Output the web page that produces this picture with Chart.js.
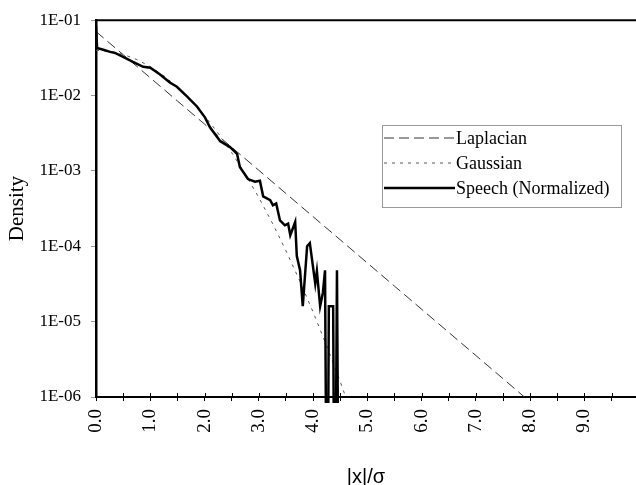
<!DOCTYPE html>
<html><head><meta charset="utf-8">
<script src="https://cdn.jsdelivr.net/npm/chart.js@4.4.1/dist/chart.umd.min.js"></script>
<style>html,body{margin:0;padding:0;background:#fff}#wrap{width:636px;height:485px}</style>
</head><body><div id="wrap"><canvas id="c" width="636" height="485"></canvas></div>
<script>
// ---- data ----
const seriesNames = ['Laplacian', 'Gaussian', 'Speech (Normalized)'];

const laplacianX = [0, 0.5, 1.0, 1.5, 2.0, 2.5, 3.0, 3.5, 4.0, 4.5, 5.0, 5.5, 6.0, 6.5, 7.0, 7.5, 8.0];
const laplacianY = [0.0707, 0.0349, 0.0172, 0.00848, 0.00418, 0.00206, 0.00102, 5.01e-4, 2.47e-4, 1.22e-4,
                    6.0e-5, 2.96e-5, 1.46e-5, 7.2e-6, 3.55e-6, 1.75e-6, 8.6e-7];

const gaussianX = [0, 0.25, 0.5, 0.75, 1.0, 1.25, 1.5, 1.75, 2.0, 2.25, 2.5, 2.75, 3.0, 3.25, 3.5, 3.75, 4.0, 4.25, 4.5, 4.75];
const gaussianY = [0.0399, 0.0387, 0.0352, 0.0301, 0.0242, 0.0183, 0.01295, 0.00863, 0.0054, 0.00317,
                   0.00175, 9.1e-4, 4.43e-4, 2.03e-4, 8.73e-5, 3.53e-5, 1.34e-5, 4.78e-6, 1.60e-6, 5.0e-7];

const speechX = [0, 0.02, 0.15, 0.26, 0.35, 0.50, 0.68, 0.87, 1.00, 1.18, 1.36, 1.49, 1.68, 1.86, 2.01, 2.10,
                 2.29, 2.47, 2.60, 2.65, 2.80, 2.93, 3.02, 3.08, 3.21, 3.26, 3.32, 3.39, 3.48, 3.54, 3.58, 3.67,
                 3.70, 3.76, 3.81, 3.89, 3.94, 4.04, 4.07, 4.13, 4.18, 4.22, 4.26, 4.29, 4.37, 4.40, 4.44, 4.48];
const speechY = [0.085, 0.0428, 0.0403, 0.038, 0.0368, 0.0326, 0.028, 0.0241, 0.0234, 0.019, 0.0149, 0.0131,
                 0.0097, 0.00716, 0.0051, 0.0038, 0.00248, 0.00207, 0.00168, 0.00113, 7.8e-4, 7.2e-4, 7.4e-4,
                 4.6e-4, 4.1e-4, 3.5e-4, 3.7e-4, 2.2e-4, 1.9e-4, 2.0e-4, 1.4e-4, 2.1e-4, 7.4e-5, 4.8e-5, 1.6e-5,
                 1.0e-4, 1.1e-4, 3.2e-5, 4.7e-5, 1.6e-5, 2.4e-5, 4.8e-5, 1e-9, 1.6e-5, 1.6e-5, 1e-9, 4.8e-5, 1e-9];

const xTickValues = [0, 0.5, 1, 1.5, 2, 2.5, 3, 3.5, 4, 4.5, 5, 5.5, 6, 6.5, 7, 7.5, 8, 8.5, 9, 9.5];
const xTickLabels = ['0.0', '', '1.0', '', '2.0', '', '3.0', '', '4.0', '', '5.0', '', '6.0', '', '7.0', '', '8.0', '', '9.0', ''];
const yTickValues = [1e-6, 1e-5, 1e-4, 1e-3, 1e-2, 1e-1];
const yTickLabels = ['1E-06', '1E-05', '1E-04', '1E-03', '1E-02', '1E-01'];

const toPts = (xs, ys) => xs.map((x, i) => ({x: x, y: ys[i]}));

const frame = {
  id: 'frame',
  afterDatasetsDraw(chart) {
    const {ctx, chartArea} = chart;
    const xs = chart.scales.x;
    ctx.save();
    ctx.strokeStyle = '#000'; ctx.lineWidth = 2;
    ctx.beginPath(); ctx.moveTo(chartArea.left, chartArea.top); ctx.lineTo(chartArea.right, chartArea.top); ctx.stroke();
    ctx.lineWidth = 1;
    ctx.beginPath();
    xs.ticks.forEach(t => {
      const px = Math.round(xs.getPixelForValue(t.value)) + 0.5;
      ctx.moveTo(px, chartArea.bottom); ctx.lineTo(px, chartArea.bottom - 4);
    });
    ctx.stroke();
    ctx.restore();
  },
  afterDraw(chart) {
    const ctx = chart.ctx;
    const bx = 382, by = 125, bw = 239, bh = 82;
    ctx.save();
    ctx.fillStyle = '#fff';
    ctx.fillRect(bx, by, bw, bh);
    ctx.strokeStyle = '#999'; ctx.lineWidth = 1;
    ctx.strokeRect(bx + 0.5, by + 0.5, bw, bh);
    chart.data.datasets.forEach((ds, i) => {
      const y = by + 13 + i * 25;
      ctx.strokeStyle = ds.borderColor;
      ctx.lineWidth = ds.borderWidth;
      ctx.setLineDash(ds.borderDash || []);
      ctx.beginPath(); ctx.moveTo(bx + 2, y); ctx.lineTo(bx + 73, y); ctx.stroke();
      ctx.setLineDash([]);
      ctx.fillStyle = '#000';
      ctx.font = '18px "Liberation Serif"';
      ctx.textBaseline = 'middle';
      ctx.textAlign = 'left';
      ctx.fillText(ds.label, bx + 74, y + 1);
    });
    ctx.restore();
  }
};

new Chart(document.getElementById('c'), {
  type: 'line',
  data: {
    datasets: [
      {label: seriesNames[0], data: toPts(laplacianX, laplacianY), borderColor: '#333', borderWidth: 1,
       borderDash: [10, 5], pointRadius: 0, fill: false, tension: 0, order: 2},
      {label: seriesNames[1], data: toPts(gaussianX, gaussianY), borderColor: '#555', borderWidth: 1,
       borderDash: [3, 5], pointRadius: 0, fill: false, tension: 0, order: 1},
      {label: seriesNames[2], data: toPts(speechX, speechY), borderColor: '#000', borderWidth: 2.5,
       pointRadius: 0, fill: false, tension: 0, order: 0, borderJoinStyle: 'miter',
       clip: {left: 0, top: 0, right: 0, bottom: 6}}
    ]
  },
  options: {
    responsive: false, animation: false, devicePixelRatio: 1,
    layout: {padding: {top: 15, right: 0, bottom: 0, left: 0}},
    plugins: {legend: {display: false}, tooltip: {enabled: false}},
    scales: {
      x: {
        type: 'linear', min: 0, max: 9.95,
        afterBuildTicks: s => { s.ticks = xTickValues.map(v => ({value: v})); },
        afterFit: s => { s.height = 88; s.paddingRight = 0; s.paddingLeft = 0; },
        ticks: {autoSkip: false, maxRotation: 90, minRotation: 90, padding: 8, includeBounds: false,
                font: {family: 'Liberation Serif', size: 19}, color: '#000',
                callback: (v, i) => xTickLabels[i]},
        grid: {drawOnChartArea: false, drawTicks: true, tickLength: 4, color: '#000', lineWidth: 1},
        border: {color: '#000', width: 2},
        title: {display: true, text: '|x|/σ', color: '#000',
                font: {family: 'Liberation Sans', size: 20, lineHeight: 1}, padding: {top: 0, bottom: -2}}
      },
      y: {
        type: 'logarithmic', min: 1e-6, max: 1e-1,
        afterBuildTicks: s => { s.ticks = yTickValues.map(v => ({value: v})); },
        afterFit: s => { s.width = 96; },
        ticks: {padding: 10, font: {family: 'Liberation Serif', size: 17}, color: '#000',
                callback: (v, i) => yTickLabels[i]},
        grid: {drawOnChartArea: false, drawTicks: true, tickLength: 5, color: '#999', lineWidth: 1},
        border: {color: '#000', width: 2.5},
        title: {display: true, text: 'Density', color: '#000',
                font: {family: 'Liberation Serif', size: 21, lineHeight: 1.2}, padding: {top: 5, bottom: 0}}
      }
    }
  },
  plugins: [frame]
});
</script></body></html>
